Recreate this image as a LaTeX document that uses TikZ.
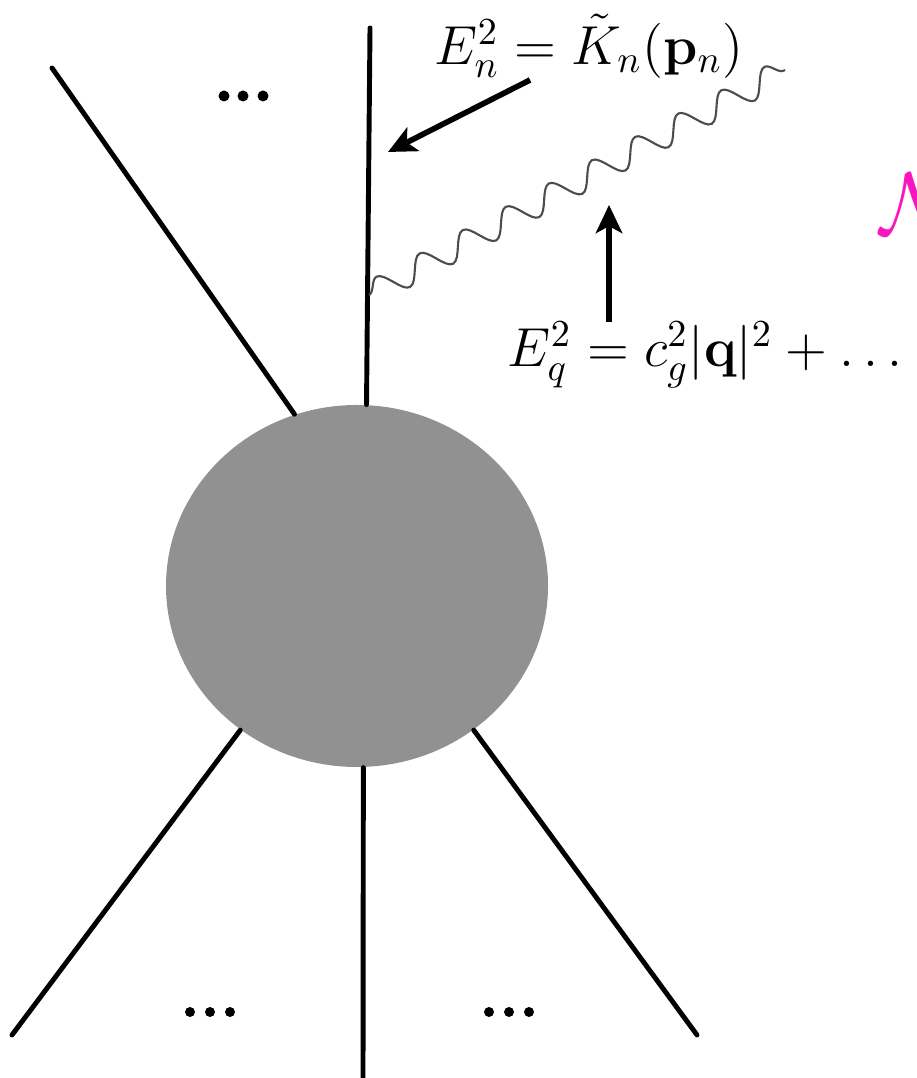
\documentclass[tikz,border=0pt]{standalone}
\usetikzlibrary{arrows.meta,shapes.geometric,decorations.pathmorphing}
\definecolor{blobgray}{RGB}{145,145,145}
\definecolor{labelpink}{RGB}{250,20,190}
\begin{document}
\begin{tikzpicture}[>={Stealth[length=8pt,width=7.5pt,inset=2pt]},
  leg/.style={line width=1.4pt,line cap=round},
  pointer/.style={->,line width=1.6pt},
  photon/.style={decorate,decoration={snake,amplitude=1.25mm,segment length=4.9mm},black!70,line width=0.6pt},
  lbl/.style={font=\Large,inner sep=0pt,scale=1.085,transform shape}]
\useasboundingbox (0,0) rectangle (9.16,10.78);
% blob
\node[ellipse,fill=blobgray,minimum width=3.82cm,minimum height=3.62cm,inner sep=0pt] (blob) at (3.57,4.92) {};
% outer ends of the legs
\coordinate (ul) at (0.52,10.10);
\coordinate (top) at (3.70,10.50);
\coordinate (ll) at (0.12,0.43);
\coordinate (lc) at (3.63,0);
\coordinate (lr) at (6.97,0.43);
\draw[leg] (ul) -- (blob.110.5);
\draw[leg] (top) -- (blob.87.5);
\draw[leg] (ll) -- (blob.231);
\draw[leg] (lc) -- (blob.272);
\draw[leg] (lr) -- (blob.309.5);
% dots
\foreach \x in {2.24,2.43,2.63} \fill (\x,9.82) circle (0.055);
\foreach \x in {1.90,2.10,2.30,4.89,5.09,5.29} \fill (\x,0.66) circle (0.05);
% photon
\coordinate (wa) at (3.69,7.83);
\coordinate (wb) at (7.85,10.08);
\draw[photon] (wa) -- (wb);
% labels
\node[lbl] (lbln) at (5.89,10.32) {$E_n^2=\tilde K_n(\mathbf{p}_n)$};
\node[lbl] (lblq) at (7.05,7.23) {$E_q^2=c_g^2|\mathbf{q}|^2+\dots$};
\node[text=labelpink,font=\fontsize{28}{30}\selectfont,anchor=west,inner sep=0pt] (nlbl) at (8.80,8.74) {$\mathcal{N}$};
\coordinate (an) at (5.30,9.98);
\coordinate (tn) at (3.88,9.26);
\coordinate (aq) at (6.09,7.56);
\coordinate (tq) at (6.09,8.73);
\draw[pointer] (an) -- (tn);
\draw[pointer] (aq) -- (tq);
\end{tikzpicture}
\end{document}
